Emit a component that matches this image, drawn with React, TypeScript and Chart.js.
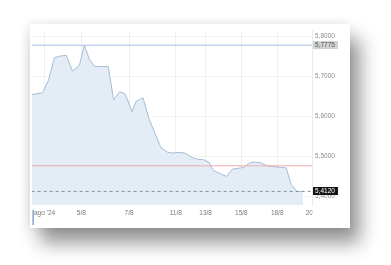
import React, { useEffect, useRef } from 'react';
import { Chart, registerables } from 'chart.js';

Chart.register(...registerables);

// trading-session position (compressed time, weekends removed) and USD/BRL rate
const sessionIndex = [0, 11, 17, 23, 29, 35, 41, 48, 53, 58, 63, 70, 77, 82.5, 88.5, 94, 101, 105, 112, 118, 124, 130, 137, 142, 148, 154, 162, 168, 173, 178, 183, 189, 196, 202, 207, 213, 218, 223, 230, 237, 245, 250, 256, 261, 267, 273];
const rates = [5.6542, 5.6583, 5.6904, 5.7465, 5.7506, 5.7523, 5.7128, 5.7265, 5.7775, 5.7427, 5.7248, 5.7241, 5.7241, 5.641, 5.6614, 5.6561, 5.6116, 5.6366, 5.6463, 5.594, 5.5578, 5.5217, 5.5096, 5.508, 5.5096, 5.508, 5.4959, 5.492, 5.4911, 5.4855, 5.4639, 5.4573, 5.4494, 5.468, 5.4694, 5.4718, 5.4814, 5.4855, 5.4839, 5.4759, 5.4735, 5.4718, 5.4711, 5.4294, 5.4116, 5.412];

const xTickPositions = [13, 50, 98, 145, 175, 211, 247, 282];
const xTickLabels = ["ago '24", '5/8', '7/8', '11/8', '13/8', '15/8', '18/8', '20/8'];
const yTickValues = [5.4, 5.5, 5.6, 5.7, 5.8];

const highValue = 5.7775;
const lastValue = 5.412;
const prevClose = 5.476;

const xMin = 0;
const xMax = 282;
const yMin = 5.378;
const yMax = 5.8133;

const FONT = '"Liberation Sans", Arial, sans-serif';
const fmt = (v: number) => v.toFixed(4).replace('.', ',');

const overlayPlugin = {
  id: 'overlay',
  afterDraw(chart: any) {
    const { ctx, chartArea, scales } = chart;
    const ys = scales.y;
    ctx.save();
    // clip x labels spilling past the plot
    ctx.fillStyle = '#ffffff';
    ctx.fillRect(chartArea.right + 0.5, chartArea.bottom + 1, chart.width - chartArea.right, chart.height - chartArea.bottom);

    const tag = (v: number, bg: string, fg: string) => {
      const py = ys.getPixelForValue(v);
      ctx.fillStyle = bg;
      ctx.fillRect(chartArea.right + 1, Math.round(py) - 4, 25, 8);
      ctx.fillStyle = fg;
      ctx.font = `6.5px ${FONT}`;
      ctx.textBaseline = 'middle';
      ctx.textAlign = 'left';
      ctx.fillText(fmt(v), chartArea.right + 3, Math.round(py) + 0.5);
    };
    tag(highValue, '#d2d2d2', '#555555');
    tag(lastValue, '#151515', '#ffffff');

    // scroll marker at bottom-left
    ctx.strokeStyle = '#7fa6d4';
    ctx.lineWidth = 1.5;
    ctx.beginPath();
    ctx.moveTo(chartArea.left + 1.5, chartArea.bottom + 5);
    ctx.lineTo(chartArea.left + 1.5, chartArea.bottom + 20);
    ctx.stroke();
    ctx.restore();
  },
};

export default function App() {
  const canvasRef = useRef<HTMLCanvasElement | null>(null);

  useEffect(() => {
    if (!canvasRef.current) return;
    const line = (v: number) => [
      { x: xMin, y: v },
      { x: xMax, y: v },
    ];
    const chart = new Chart(canvasRef.current, {
      type: 'line',
      data: {
        datasets: [
          {
            data: line(highValue),
            borderColor: '#a9c3e2',
            borderWidth: 1,
            pointRadius: 0,
            fill: false,
            order: 0,
          },
          {
            data: line(prevClose),
            borderColor: '#f0a8b0',
            borderWidth: 1,
            pointRadius: 0,
            fill: false,
            order: 0,
          },
          {
            data: line(lastValue),
            borderColor: '#8a8f96',
            borderWidth: 1,
            borderDash: [3, 3],
            pointRadius: 0,
            fill: false,
            order: 0,
          },
          {
            data: sessionIndex.map((x, i) => ({ x, y: rates[i] })),
            borderColor: '#a6bdd6',
            backgroundColor: '#e4edf6',
            borderWidth: 1,
            pointRadius: 0,
            tension: 0,
            fill: 'start',
            order: 1,
          },
        ],
      },
      options: {
        animation: false,
        responsive: false,
        devicePixelRatio: 1,
        layout: { padding: 0 },
        plugins: {
          legend: { display: false },
          tooltip: { enabled: false },
        },
        scales: {
          x: {
            type: 'linear',
            min: xMin,
            max: xMax,
            afterBuildTicks: (scale: any) => {
              scale.ticks = xTickPositions.map((value) => ({ value }));
            },
            afterFit: (scale: any) => {
              scale.height = 23;
            },
            grid: { color: '#efefef', drawTicks: false },
            border: { display: false },
            ticks: {
              autoSkip: false,
              maxRotation: 0,
              padding: 4,
              color: '#7a7a7a',
              font: { family: FONT, size: 6.5 },
              callback: (value: any) => {
                const i = xTickPositions.indexOf(Number(value));
                return i >= 0 ? xTickLabels[i] : '';
              },
            },
          },
          y: {
            type: 'linear',
            position: 'right',
            min: yMin,
            max: yMax,
            afterBuildTicks: (scale: any) => {
              scale.ticks = yTickValues.map((value) => ({ value }));
            },
            afterFit: (scale: any) => {
              scale.width = 38;
            },
            grid: { color: '#f3f3f3', drawTicks: false },
            border: { display: true, color: '#e9e9e9' },
            ticks: {
              padding: 3,
              color: '#8a8a8a',
              font: { family: FONT, size: 6.5 },
              callback: (value: any) => fmt(Number(value)),
            },
          },
        },
      },
      plugins: [overlayPlugin],
    });
    return () => chart.destroy();
  }, []);

  return (
    <div style={{ position: 'fixed', left: 0, top: 0, width: 391, height: 265, background: '#ffffff', overflow: 'hidden' }}>
      <div
        style={{
          position: 'absolute',
          left: 30,
          top: 24,
          width: 320,
          height: 204,
          background: '#ffffff',
          boxShadow: '10px 15px 18px rgba(0,0,0,0.42), -2px 0 10px rgba(0,0,0,0.10)',
        }}
      >
        <canvas ref={canvasRef} width={320} height={204} style={{ display: 'block', width: 320, height: 204 }} />
      </div>
    </div>
  );
}
